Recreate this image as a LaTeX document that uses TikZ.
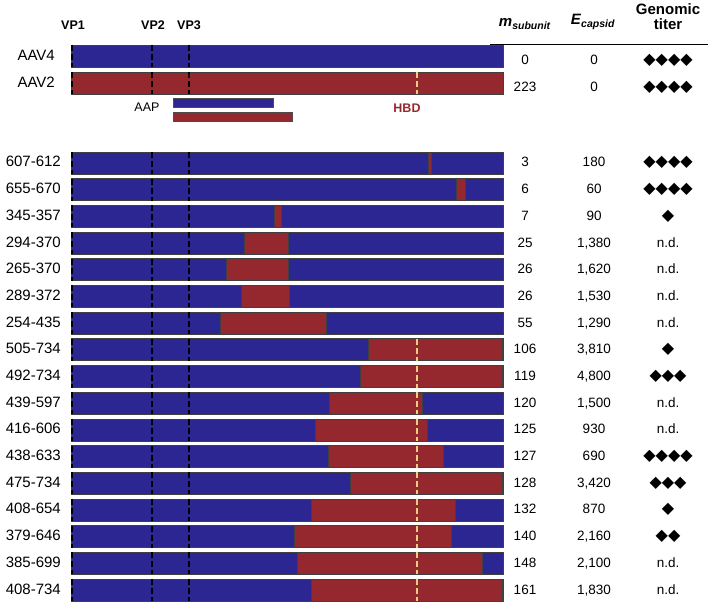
\documentclass[tikz,border=0pt]{standalone}
\usepackage{fontspec}
\setmainfont{Liberation Sans}
\newfontfamily\symfont{DejaVu Sans}
\usetikzlibrary{positioning}

\definecolor{capBlue}{RGB}{44,38,146}
\definecolor{capRed}{RGB}{149,40,46}
\definecolor{hbdYellow}{RGB}{236,206,128}

\newcommand{\dm}{{\symfont\fontsize{16}{16}\selectfont ◆}}
\newcommand{\titerMarks}[1]{\ifnum#1=0 n.d.\else\foreach \k in {1,...,#1}{\dm}\fi}

\begin{document}
\begin{tikzpicture}[
        x=1pt, y=-1pt,
        blueBar/.style={fill=capBlue, draw=black!75, line width=0.7pt},
        redSeg/.style={fill=capRed, draw=black!75, line width=0.7pt},
        aapBar/.style={draw=black!70, line width=0.6pt},
        vpLine/.style={draw=black, line width=2pt, dash pattern=on 6pt off 3pt},
        hbdLine/.style={draw=hbdYellow, line width=1.1pt, dash pattern=on 6pt off 3pt},
        rowLabel/.style={anchor=base east, inner sep=0pt, font=\fontsize{15}{18}\selectfont},
        numCell/.style={anchor=base, inner sep=0pt, font=\fontsize{13.5}{16}\selectfont},
        headLabel/.style={anchor=base, inner sep=0pt, font=\fontsize{12.5}{15}\selectfont\bfseries},
        colHead/.style={anchor=base, inner sep=0pt, align=center, font=\fontsize{15}{15}\selectfont\bfseries}
    ]
        \useasboundingbox (0,0) rectangle (714,609);

        % Headers
        \node (vp1) [headLabel] at (73,30) {VP1};
        \node (vp2) [headLabel] at (153,30) {VP2};
        \node (vp3) [headLabel] at (189,30) {VP3};
        \node (mhead) [colHead] at (525,27) {\textit{m}\textsubscript{\textit{subunit}}};
        \node (ehead) [colHead] at (593,25) {\textit{E}\textsubscript{\textit{capsid}}};
        \node (thead) [colHead, anchor=north] at (668,3) {Genomic\\titer};
        \draw [line width=1pt] (490,45) -- (708,45);

        % Parent capsids
        \draw [blueBar] (71,45) rectangle (503,67);
        \draw [redSeg] (71,72) rectangle (503,94);
        \draw [hbdLine] (417,72) -- (417,94);
        \foreach \v in {72,152,189}{
            \draw [vpLine] (\v,45) -- (\v,67);
            \draw [vpLine] (\v,72) -- (\v,94);
        }
        \node (aav4) [rowLabel] at (55,61) {AAV4};
        \node (aav2) [rowLabel] at (55,88) {AAV2};
        \node (m4) [numCell] at (525,65) {0};
        \node (e4) [numCell] at (594,65) {0};
        \node (t4) [numCell] at (668,65) {\titerMarks{4}};
        \node (m2) [numCell] at (525,92) {223};
        \node (e2) [numCell] at (594,92) {0};
        \node (t2) [numCell] at (668,92) {\titerMarks{4}};

        % AAP and HBD
        \draw [aapBar, fill=capBlue] (173,98) rectangle (273,107);
        \draw [aapBar, fill=capRed] (173,112) rectangle (292,121);
        \node (aap) [headLabel, font=\fontsize{12.5}{15}\selectfont] at (147,112) {AAP};
        \node (hbd) [headLabel, text=capRed] at (407,113) {HBD};

        % Chimeras
        \foreach \lab/\a/\b/\hb/\m/\E/\t [count=\i from 0, evaluate=\i as \yc using 163+26.69*\i] in {
            607-612/607/612/0/3/180/4,
            655-670/655/670/0/6/60/4,
            345-357/345/357/0/7/90/1,
            294-370/294/370/0/25/{1,380}/0,
            265-370/265/370/0/26/{1,620}/0,
            289-372/289/372/0/26/{1,530}/0,
            254-435/254/435/0/55/{1,290}/0,
            505-734/505/734/1/106/{3,810}/1,
            492-734/492/734/1/119/{4,800}/3,
            439-597/439/597/1/120/{1,500}/0,
            416-606/416/606/1/125/930/0,
            438-633/438/633/1/127/690/4,
            475-734/475/734/1/128/{3,420}/3,
            408-654/408/654/1/132/870/1,
            379-646/379/646/1/140/{2,160}/2,
            385-699/385/699/1/148/{2,100}/0,
            408-734/408/734/1/161/{1,830}/0}{
            \draw [blueBar] (71,{\yc-11}) rectangle (503,{\yc+11});
            \draw [redSeg] ({71+0.588*\a},{\yc-11}) rectangle ({71+0.588*\b},{\yc+11});
            \ifnum\hb=1
                \draw [hbdLine] (417,{\yc-11}) -- (417,{\yc+11});
            \fi
            \foreach \v in {72,152,189}
                \draw [vpLine] (\v,{\yc-11}) -- (\v,{\yc+11});
            \node (lab\i) [rowLabel] at (61,{\yc+4}) {\lab};
            \node (m\i) [numCell] at (525,{\yc+4}) {\m};
            \node (e\i) [numCell] at (594,{\yc+4}) {\E};
            \node (t\i) [numCell] at (668,{\yc+4}) {\titerMarks{\t}};
        }
    \end{tikzpicture}
\end{document}
